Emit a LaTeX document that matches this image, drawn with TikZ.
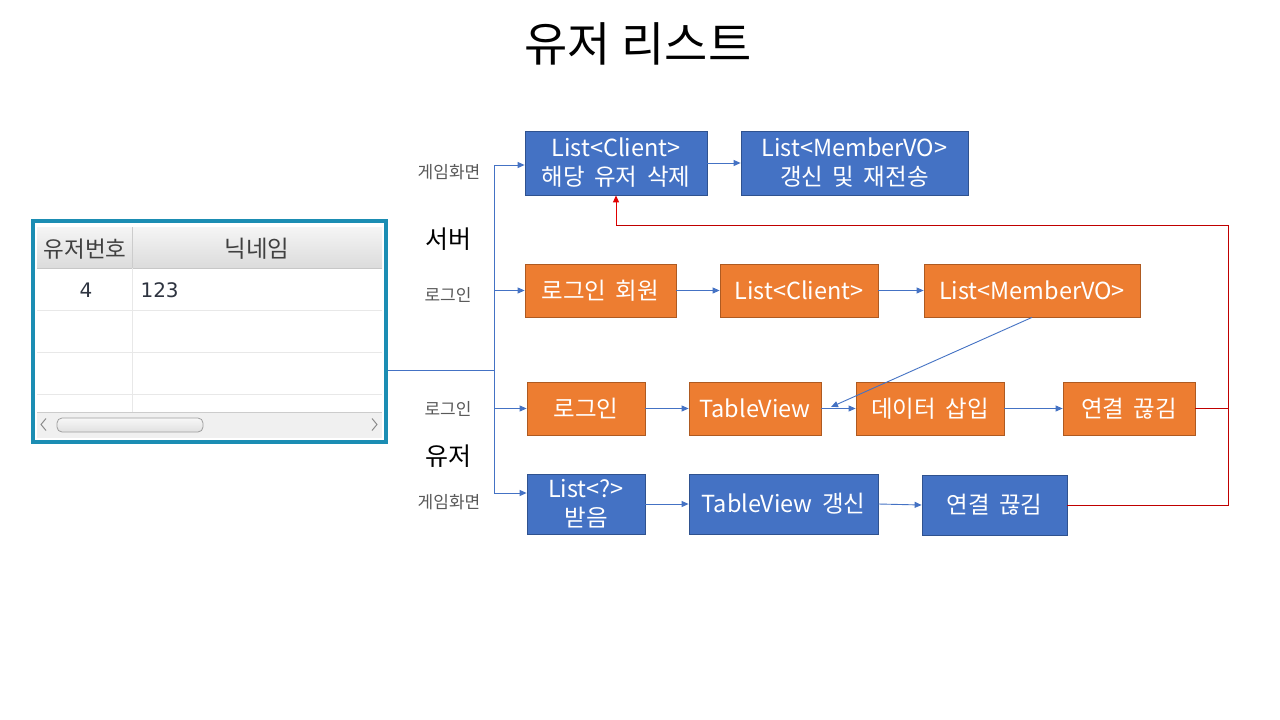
\documentclass[tikz,border=0pt]{standalone}
\usepackage{fontspec}
\setmainfont{Noto Sans CJK KR}
\newfontfamily\numfont{DejaVu Sans}
\usetikzlibrary{arrows.meta}
\definecolor{bfill}{HTML}{4472C4}
\definecolor{bline}{HTML}{2F528F}
\definecolor{ofill}{HTML}{ED7D31}
\definecolor{oline}{HTML}{AE5A21}
\definecolor{teal}{HTML}{1B8DB3}
\definecolor{lbl}{HTML}{595959}
\definecolor{redA}{HTML}{C00000}
\definecolor{redB}{HTML}{E00000}
\definecolor{celltxt}{HTML}{2E3440}
\newcommand\myboxfont{\fontsize{23.5}{29}\selectfont\spaceskip=0.4em\relax}
\tikzset{
  bx/.style={draw, line width=0.8pt, text=white, align=center, inner sep=0pt,
    font=\myboxfont},
  bluebox/.style={bx, fill=bfill, draw=bline},
  orangebox/.style={bx, fill=ofill, draw=oline},
  arr/.style={draw=bfill, line width=0.9pt, -{Triangle[length=7pt,width=6pt]}},
  ln/.style={draw=bfill, line width=0.9pt},
  redln/.style={draw=redA, line width=0.9pt},
  redarr/.style={draw=redB, line width=0.9pt, -{Triangle[length=7pt,width=6pt]}},
  small/.style={text=lbl, font=\fontsize{17}{19}\selectfont},
  mid/.style={text=black, font=\fontsize{25}{28}\selectfont},
}
\begin{document}
\begin{tikzpicture}[x=1pt,y=-1pt]
\useasboundingbox (0,0) rectangle (1280,720);
\fill[white] (0,0) rectangle (1280,720);

% title
\node[font=\fontsize{47}{52}\selectfont] (title) at (638,44) {유저 리스트};

% ---------- table widget ----------
\fill[white] (33,221) rectangle (386,442);
\shade[top color=white!96!black, bottom color=white!86!black] (37,227) rectangle (382,268);
\draw[white!78!black, line width=0.8pt] (37,268) -- (382,268);
\draw[white!80!black, line width=0.8pt] (132,227) -- (132,268);
\draw[white!91!black, line width=0.8pt] (37,310) -- (382,310);
\draw[white!91!black, line width=0.8pt] (37,352) -- (382,352);
\draw[white!91!black, line width=0.8pt] (37,394) -- (382,394);
\draw[white!91!black, line width=0.8pt] (132,268) -- (132,412);
\fill[white!94!black] (37,412) rectangle (382,438);
\draw[white!80!black, line width=0.8pt] (37,412) -- (382,412);
\shade[top color=white!97!black, bottom color=white!88!black, draw=white!62!black, rounded corners=5pt, line width=0.8pt] (57,418) rectangle (203,432);
\draw[white!55!black, line width=1pt] (46,418.5) -- (41,424.5) -- (46,430.5);
\draw[white!55!black, line width=1pt] (372,418.5) -- (377,424.5) -- (372,430.5);
\node[text=white!25!black, font=\fontsize{22.5}{26}\selectfont] (h1) at (85,249) {유저번호};
\node[text=white!25!black, font=\fontsize{23.5}{26}\selectfont] (h2) at (257,249) {닉네임};
\node[text=celltxt, font=\numfont\fontsize{20}{22}\selectfont] (c1v) at (86,290) {4};
\node[text=celltxt, font=\numfont\fontsize{20}{22}\selectfont, anchor=west] (c2v) at (137,290) {123};
\draw[teal, line width=3.5pt] (33,221) rectangle (386,442);
\coordinate (tabout) at (388,370);

% ---------- side labels ----------
\node[small] (l1) at (449,172) {게임화면};
\node[mid] (l2) at (448,239) {서버};
\node[small] (l3) at (448,295) {로그인};
\node[small] (l4) at (448,409) {로그인};
\node[mid] (l5) at (448,456) {유저};
\node[small] (l6) at (449,502) {게임화면};

% ---------- boxes ----------
\node[bluebox, minimum width=182pt, minimum height=64pt] (a1) at (616,163) {List<Client>\\해당 유저 삭제};
\node[bluebox, minimum width=227pt, minimum height=64pt] (a2) at (854.5,163) {List<MemberVO>\\ 갱신 및 재전송};

\node[orangebox, minimum width=151pt, minimum height=53pt] (b1) at (600.5,290.5) {로그인 회원};
\node[orangebox, minimum width=158pt, minimum height=53pt] (b2) at (799,290.5) {List<Client>};
\node[orangebox, minimum width=216pt, minimum height=53pt] (b3) at (1032,290.5) {List<MemberVO>};

\node[orangebox, minimum width=118pt, minimum height=53pt] (c1) at (586,408.5) {로그인};
\node[orangebox, minimum width=132pt, minimum height=53pt] (c2) at (755,408.5) {TableView};
\node[orangebox, minimum width=148pt, minimum height=53pt] (c3) at (930,408.5) {데이터 삽입};
\node[orangebox, minimum width=132pt, minimum height=53pt] (c4) at (1129,408.5) {연결 끊김};

\node[bluebox, minimum width=118pt, minimum height=60pt] (d1) at (586,504) {List<?>\\받음};
\node[bluebox, minimum width=189pt, minimum height=60pt] (d2) at (783.5,504) {TableView 갱신};
\node[bluebox, minimum width=145pt, minimum height=60pt] (d3) at (994.5,505) {연결 끊김};

% ---------- spine ----------
\coordinate (sp0) at (494,370);
\coordinate (spA) at (494,165);
\coordinate (spB) at (494,290.5);
\coordinate (spC) at (494,408.5);
\coordinate (spD) at (494,493);
\draw[ln] (tabout) -- (sp0);
\draw[ln] (spA) -- (spD);
\draw[arr] (spA) -- (a1.west |- spA);
\draw[arr] (spB) -- (b1.west);
\draw[arr] (spC) -- (c1.west);
\draw[arr] (spD) -- (d1.west |- spD);

% ---------- flow arrows ----------
\draw[arr] (a1.east) -- (a2.west);
\draw[arr] (b1.east) -- (b2.west);
\draw[arr] (b2.east) -- (b3.west);
\draw[arr] (c1.east) -- (c2.west);
\draw[arr] (c2.east) -- (c3.west);
\draw[arr] (c3.east) -- (c4.west);
\draw[arr] (d1.east) -- (d2.west);
\draw[arr] (d2.east) -- (d3.west);
\coordinate (c2tip) at (831,407);
\draw[arr] (b3.south) -- (c2tip);

% ---------- red return ----------
\coordinate (rC) at (1228,408.5);
\coordinate (rD) at (1228,505);
\coordinate (rT) at (1228,225);
\coordinate (rL) at (616,225);
\draw[redln] (c4.east) -- (rC);
\draw[redln] (d3.east) -- (rD) -- (rT) -- (rL);
\draw[redarr] (rL) -- (a1.south);
\end{tikzpicture}
\end{document}
